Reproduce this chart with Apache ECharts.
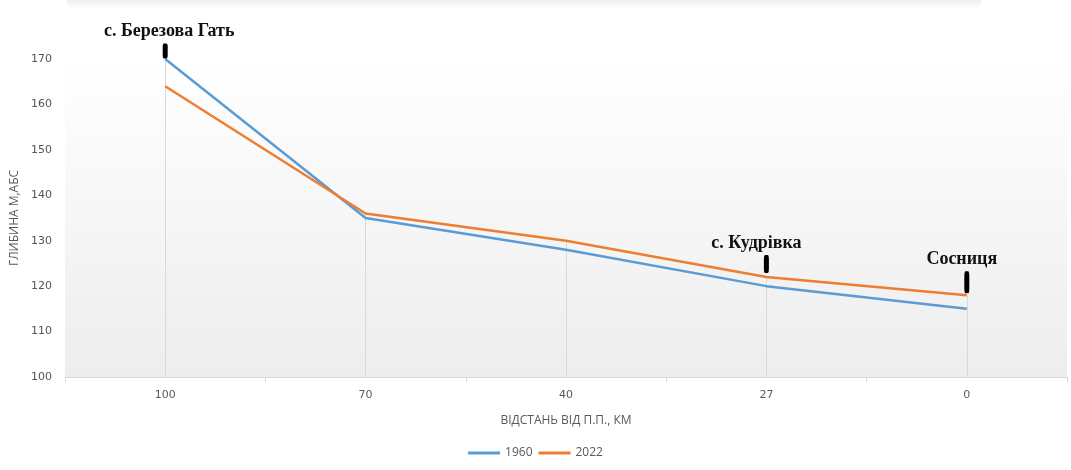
<!DOCTYPE html>
<html>
<head>
<meta charset="utf-8">
<script src="https://cdn.jsdelivr.net/npm/echarts@6/dist/echarts.min.js"></script>
<style>
html,body{margin:0;padding:0;background:#fff;}
#chart{width:1071px;height:470px;}
</style>
</head>
<body>
<div id="chart"></div>
<script>
// ---- data ----
const categories = ['100', '70', '40', '27', '0'];
const values1960 = [170, 135, 128, 120, 115];
const values2022 = [164, 136, 130, 122, 118];
const seriesNames = ['1960', '2022'];
const yTicks = [100, 110, 120, 130, 140, 150, 160, 170];
const annotationNames = ['с. Березова Гать', 'с. Кудрівка', 'Сосниця'];
const annotationCats = ['100', '27', '0'];
const annotationVals = [170, 122, 118];

// ---- styles (not data) ----
const annStyle = [
  {size: [5, 15], offset: [0, -8], labelOffset: [4, 0], dist: 3},
  {size: [5, 18], offset: [0, -13], labelOffset: [-10, 0], dist: 3},
  {size: [5, 22], offset: [0, -13], labelOffset: [-5, 0], dist: 3}
];

const chart = echarts.init(document.getElementById('chart'), null, {renderer: 'canvas'});

const dropLines = categories.map((c, i) => [
  {coord: [c, yTicks[0]]},
  {coord: [c, Math.max(values1960[i], values2022[i])]}
]);

const annData = annotationNames.map((n, i) => ({
  name: n,
  coord: [annotationCats[i], annotationVals[i]],
  symbol: 'roundRect',
  symbolSize: annStyle[i].size,
  symbolOffset: annStyle[i].offset,
  itemStyle: {color: '#000'},
  label: {
    show: true,
    position: 'top',
    distance: annStyle[i].dist,
    offset: annStyle[i].labelOffset,
    formatter: n,
    color: '#111',
    fontFamily: 'Liberation Serif',
    fontWeight: 'bold',
    fontSize: 18
  }
}));

chart.setOption({
  animation: false,
  backgroundColor: '#fff',
  graphic: [{
    type: 'rect',
    shape: {x: 67, y: 0, width: 914, height: 8},
    style: {fill: new echarts.graphic.LinearGradient(0, 0, 0, 1, [
      {offset: 0, color: '#ededed'}, {offset: 1, color: '#ffffff'}
    ])},
    z: -1
  }],
  grid: {
    left: 65, right: 4, top: 59, bottom: 93,
    outerBoundsMode: 'none',
    containLabel: false,
    show: true,
    borderWidth: 0,
    backgroundColor: new echarts.graphic.LinearGradient(0, 0, 0, 1, [
      {offset: 0, color: '#ffffff'}, {offset: 1, color: '#ededed'}
    ])
  },
  legend: {
    bottom: 6,
    left: 'center',
    itemWidth: 32,
    itemHeight: 3,
    itemGap: 6,
    icon: 'rect',
    textStyle: {color: '#595959', fontSize: 12, fontFamily: 'Open Sans'},
    data: seriesNames
  },
  xAxis: {
    type: 'category',
    data: categories,
    boundaryGap: true,
    name: 'ВІДСТАНЬ ВІД П.П., КМ',
    nameLocation: 'middle',
    nameGap: 38,
    nameTextStyle: {color: '#595959', fontSize: 12, fontFamily: 'Open Sans'},
    axisLine: {lineStyle: {color: '#d9d9d9', width: 1}},
    axisTick: {show: true, length: 5, lineStyle: {color: '#d9d9d9'}},
    axisLabel: {color: '#595959', fontSize: 11, fontFamily: 'DejaVu Sans', margin: 13},
    splitLine: {show: false}
  },
  yAxis: {
    type: 'value',
    min: yTicks[0],
    max: yTicks[yTicks.length - 1],
    interval: 10,
    name: 'ГЛИБИНА М,АБС',
    nameLocation: 'middle',
    nameGap: 42,
    nameTextStyle: {color: '#595959', fontSize: 12, fontFamily: 'Open Sans'},
    axisLine: {show: false},
    axisTick: {show: false},
    splitLine: {show: false},
    axisLabel: {color: '#555555', fontSize: 11, fontFamily: 'DejaVu Sans', margin: 13}
  },
  series: [
    {
      name: seriesNames[0],
      type: 'line',
      data: values1960,
      symbol: 'none',
      lineStyle: {color: '#5b9bd5', width: 2.5},
      itemStyle: {color: '#5b9bd5'},
      z: 3,
      markLine: {
        silent: true,
        symbol: 'none',
        label: {show: false},
        lineStyle: {color: '#d9d9d9', width: 1, type: 'solid'},
        data: dropLines,
        z: 1
      }
    },
    {
      name: seriesNames[1],
      type: 'line',
      data: values2022,
      symbol: 'none',
      lineStyle: {color: '#ed7d31', width: 2.5},
      itemStyle: {color: '#ed7d31'},
      z: 4,
      markPoint: {
        silent: true,
        data: annData,
        z: 10
      }
    }
  ]
});
</script>
</body>
</html>
